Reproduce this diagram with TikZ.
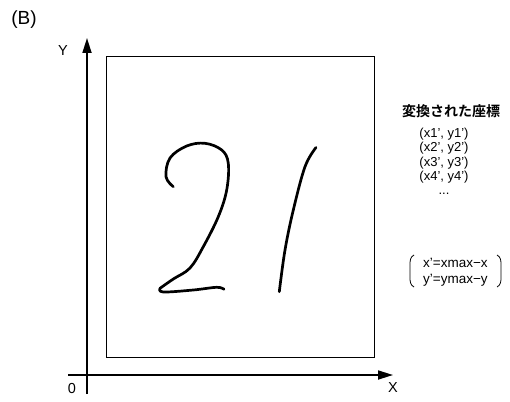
\documentclass[tikz,border=0pt]{standalone}
\usepackage{fontspec}
\setmainfont{Liberation Sans}
\newfontfamily\cjk{Noto Sans CJK JP Bold}
\usetikzlibrary{arrows.meta}
\begin{document}
\begin{tikzpicture}[x=1pt,y=-1pt,
  axis/.style={line width=1.7pt,-{Triangle[length=15pt,width=9pt]}},
  hand/.style={line width=2.7pt,line cap=round,line join=round},
  frame/.style={line width=0.8pt},
  lbl/.style={font=\fontsize{14.5}{16}\selectfont,inner sep=0pt},
  coord/.style={font=\fontsize{13}{14}\selectfont,inner sep=0pt},
  formula/.style={font=\fontsize{13.5}{15}\selectfont,inner sep=0pt},
  paren/.style={line width=0.8pt}]
\useasboundingbox (0,0) rectangle (510,401);
\node[inner sep=0pt,font=\fontsize{19}{22}\selectfont] (B) at (24,20) {(B)};
% axes
\coordinate (yo) at (87,394);
\coordinate (yt) at (87,38);
\draw[axis] (yo) -- (yt);
\coordinate (xo) at (68,375);
\coordinate (xt) at (393,375);
\draw[axis] (xo) -- (xt);
\node[lbl] (Y) at (63,51) {Y};
\node[lbl] (X) at (393,388) {X};
\node[lbl] (O) at (72,389) {0};
% frame
\draw[frame] (106,56) rectangle (374,357);
% handwritten 2
\draw[hand] plot[smooth,tension=0.6] coordinates {(173.3,186.7) (166,176.7) (170,158) (186.7,146) (205,143.3) (221.7,150) (228.3,163.3) (226.7,190) (218.3,216.7) (203.3,246.7) (190,268) (173.3,279) (160,288.3)};
\draw[hand] plot[smooth,tension=0.6] coordinates {(160,288.3) (163.3,292) (193.3,290) (216.7,287.3) (224,289.3)};
% handwritten 1
\draw[hand] plot[smooth,tension=0.6] coordinates {(316,147.5) (305,166.7) (293.3,210) (285,250) (279.3,291.7)};
% transformed coordinates
\node[inner sep=0pt,font=\cjk\fontsize{14}{16}\selectfont] (title) at (451,111) {変換された座標};
\node[coord] (c1) at (444,134) {(x1', y1')};
\node[coord] (c2) at (444,148.5) {(x2', y2')};
\node[coord] (c3) at (444,163) {(x3', y3')};
\node[coord] (c4) at (444,177.5) {(x4', y4')};
\node[coord] (c5) at (444,194) {...};
% formula
\node[formula,anchor=west] (f1) at (423,263) {x'=xmax−x};
\node[formula,anchor=west] (f2) at (423,280) {y'=ymax−y};
\draw[paren] (414,255) .. controls (410,257) and (410,261) .. (410,265) -- (410,277) .. controls (410,281) and (410,285) .. (414,287);
\draw[paren] (497,255) .. controls (501,257) and (501,261) .. (501,265) -- (501,277) .. controls (501,281) and (501,285) .. (497,287);
\end{tikzpicture}
\end{document}
